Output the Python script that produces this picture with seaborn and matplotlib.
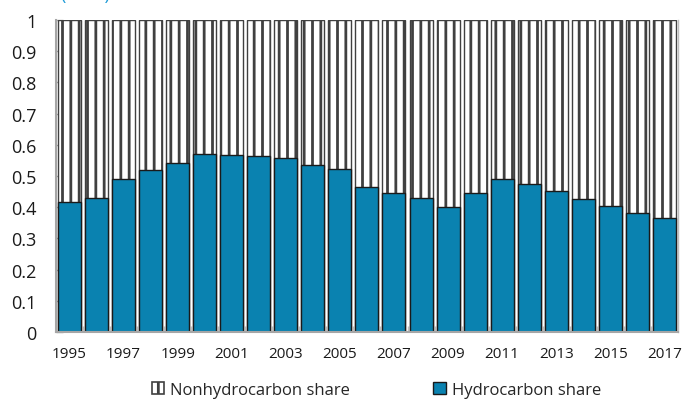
import matplotlib
matplotlib.use("Agg")
import matplotlib.pyplot as plt
from matplotlib.patches import Patch
from matplotlib.ticker import FixedLocator
import numpy as np
import pandas as pd
import seaborn as sns

# Shares of total, by year
years = list(range(1995, 2018))
hydrocarbon_share = [0.416, 0.428, 0.489, 0.518, 0.541, 0.571, 0.568, 0.563, 0.559,
                     0.534, 0.524, 0.464, 0.447, 0.431, 0.401, 0.445, 0.489, 0.473,
                     0.453, 0.425, 0.403, 0.380, 0.365]
nonhydrocarbon_share = [round(1 - v, 3) for v in hydrocarbon_share]
year_labels = [str(y) if (y - 1995) % 2 == 0 else "" for y in years]

sns.set_theme(style="white")
plt.rcParams["font.family"] = ["Open Sans", "DejaVu Sans"]
plt.rcParams["hatch.linewidth"] = 2.0

df = pd.DataFrame({
    "year": [str(y) for y in years],
    "hydro": hydrocarbon_share,
    "total": [h + n for h, n in zip(hydrocarbon_share, nonhydrocarbon_share)],
})

BLUE = "#0A82B0"
fig = plt.figure(figsize=(6.82, 4.02), dpi=100)
ax = fig.add_axes([0.0821, 0.1716, 0.9119, 0.7762])

# full-height hatched bars (nonhydrocarbon sits above the hydrocarbon part)
sns.barplot(data=df, x="year", y="total", color="white", width=0.85,
            edgecolor="#404040", linewidth=1.0, hatch="||", saturation=1,
            ax=ax)
sns.barplot(data=df, x="year", y="hydro", color=BLUE, width=0.85,
            edgecolor="#1a1a1a", linewidth=1.0, saturation=1, ax=ax)

ax.set_xlim(-0.5, len(years) - 0.5)
ax.set_ylim(0, 1)
ax.set_xlabel("")
ax.set_ylabel("")

ax.set_yticks(np.arange(0, 1.01, 0.1))
ax.set_yticklabels(["0"] + [f"{v:.1f}" for v in np.arange(0.1, 0.95, 0.1)] + ["1"])
ax.tick_params(axis="y", direction="in", length=5, color="#A6A6A6", width=1,
               labelsize=13, pad=14, left=True, colors="#A6A6A6",
               labelcolor="#1a1a1a")

ax.set_xticks(range(len(years)))
ax.set_xticklabels(year_labels)
ax.xaxis.set_minor_locator(FixedLocator(np.arange(0.5, len(years) - 1, 1.0)))
ax.tick_params(axis="x", which="major", length=0, labelsize=11, pad=10,
               labelcolor="#1a1a1a")
ax.tick_params(axis="x", which="minor", direction="in", length=4,
               color="#BFBFBF", width=1, bottom=True)

for side in ["left", "bottom"]:
    ax.spines[side].set_color("#A6A6A6")
    ax.spines[side].set_linewidth(1.5)
ax.spines["right"].set_color("#BFBFBF")
ax.spines["right"].set_linewidth(1.0)
ax.spines["top"].set_visible(False)

# units note above the plot
fig.text(0.088, 1.012, "(ratio)", color="#1E9BD7", fontsize=13,
         ha="left", va="center")

handles = [
    Patch(facecolor="white", edgecolor="#404040", hatch="|", linewidth=1.2),
    Patch(facecolor=BLUE, edgecolor="#1a1a1a", linewidth=1.0),
]
fig.legend(handles, ["Nonhydrocarbon share", "Hydrocarbon share"],
           loc="center", bbox_to_anchor=(0.552, 0.028), ncol=2, frameon=False,
           fontsize=12, handlelength=0.75, handleheight=0.75, handletextpad=0.35,
           columnspacing=5.0, borderaxespad=0)

fig.savefig("out.png", dpi=100)
